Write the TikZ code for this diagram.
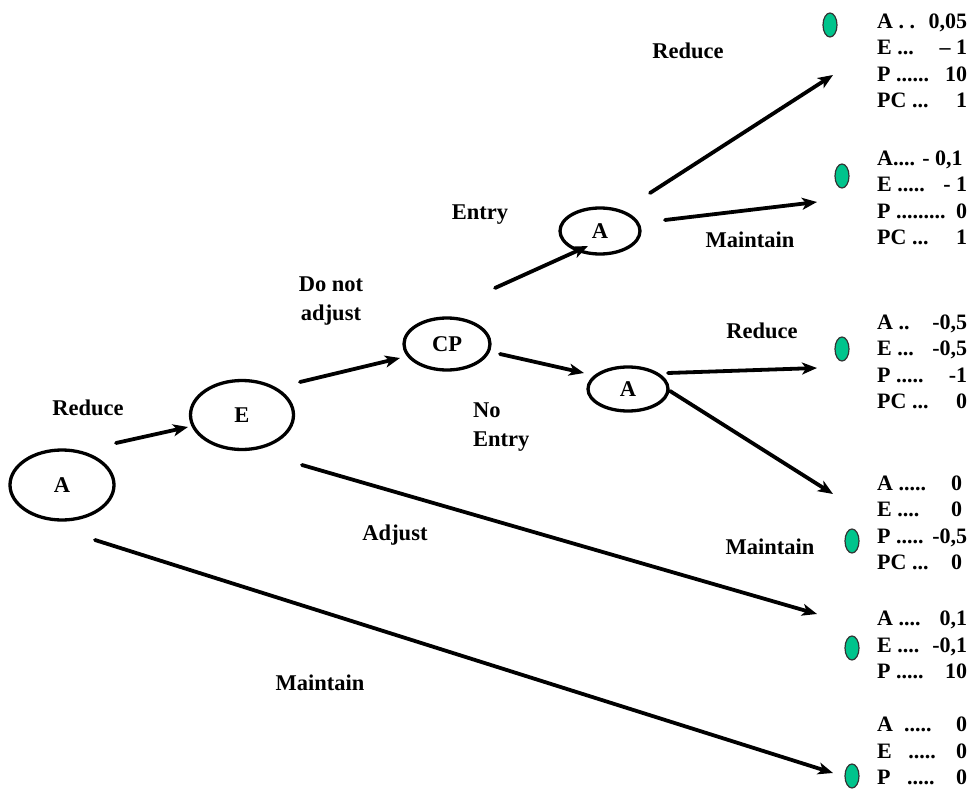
\documentclass[tikz,border=0pt]{standalone}
\usepackage{fontspec}
\setmainfont{Liberation Serif}
\usetikzlibrary{shapes.geometric,arrows.meta}
\newcommand{\pl}[2]{\hbox to 90pt{#1\hfill #2}}
\tikzset{
  dec/.style={ellipse, draw=black, line width=3.3pt, inner sep=0pt, font=\fontsize{22.5}{26}\selectfont\bfseries},
  leaf/.style={ellipse, draw=black!80, line width=1.2pt, fill={rgb,255:red,0;green,196;blue,140}, minimum width=14pt, minimum height=24pt, inner sep=0pt},
  lbl/.style={font=\fontsize{22.5}{29}\selectfont\bfseries, inner sep=0pt, align=center},
  pay/.style={font=\fontsize{22}{26.5}\selectfont\bfseries, inner sep=0pt, anchor=west, align=left},
  arr/.style={line width=3.8pt, -{Stealth[length=15pt,width=12pt,inset=4pt]}, line cap=round}
}
\begin{document}
\begin{tikzpicture}[x=1pt,y=-1pt]
\useasboundingbox (0,0) rectangle (975,789);
% decision nodes
\node[dec, minimum width=104pt, minimum height=70pt] (A0) at (62,485) {A};
\node[dec, minimum width=103pt, minimum height=69pt] (E) at (242,415) {E};
\node[dec, minimum width=86pt, minimum height=52pt] (CP) at (447,344) {CP};
\node[dec, minimum width=80pt, minimum height=46pt] (A1) at (600,231) {A};
\node[dec, minimum width=80pt, minimum height=44pt] (A2) at (628,389) {A};
% leaves
\node[leaf] (L1) at (830,25) {};
\node[leaf] (L2) at (842,176) {};
\node[leaf] (L3) at (842,349) {};
\node[leaf] (L4) at (852,541) {};
\node[leaf] (L5) at (852,648) {};
\node[leaf] (L6) at (852,776) {};
% connector coordinates
\coordinate (s1) at (116,443); \coordinate (e1) at (188,427);
\coordinate (s2) at (300,382); \coordinate (e2) at (400,358);
\coordinate (s3) at (495,288); \coordinate (e3) at (588,246);
\coordinate (s4) at (500,354); \coordinate (e4) at (584,373);
\coordinate (s5) at (650,193); \coordinate (e5) at (833,75);
\coordinate (s6) at (665,220); \coordinate (e6) at (817,202);
\coordinate (s7) at (668,373); \coordinate (e7) at (817,368);
\coordinate (s8) at (670,391); \coordinate (e8) at (833,494);
\coordinate (s9) at (302,465); \coordinate (e9) at (817,614);
\coordinate (s10) at (95,540); \coordinate (e10) at (833,773);
\foreach \i in {1,...,10} {\draw[arr] (s\i) -- (e\i);}
% labels
\node[lbl] (t1) at (88,408) {Reduce};
\node[lbl] (t2) at (331,301) {Do not\\adjust};
\node[lbl] (t3) at (480,215) {Entry};
\node[lbl, anchor=west, align=left] (t4) at (473,427) {No\\Entry};
\node[lbl] (t5) at (395,535) {Adjust};
\node[lbl] (t6) at (320,683) {Maintain};
\node[lbl] (t7) at (688,51) {Reduce};
\node[lbl] (t8) at (750,240) {Maintain};
\node[lbl] (t9) at (762,331) {Reduce};
\node[lbl] (t10) at (770,547) {Maintain};
% payoffs
\node[pay] (p1) at (877,61) {\pl{A . .}{0,05}\\\pl{E ...}{-- 1}\\\pl{P ......}{10}\\\pl{PC ...}{1}};
\node[pay] (p2) at (877,198) {\pl{A.... - 0,1}{}\\\pl{E .....}{- 1}\\\pl{P .........}{0}\\\pl{PC ...}{1}};
\node[pay] (p3) at (877,362) {\pl{A ..}{-0,5}\\\pl{E ...}{-0,5}\\\pl{P .....}{-1}\\\pl{PC ...}{0}};
\node[pay] (p4) at (877,523) {\pl{A .....}{0\hspace{5pt}}\\\pl{E ....}{0\hspace{5pt}}\\\pl{P .....}{-0,5}\\\pl{PC ...}{0\hspace{5pt}}};
\node[pay] (p5) at (877,645) {\pl{A ....}{0,1}\\\pl{E ....}{-0,1}\\\pl{P .....}{10}};
\node[pay] (p6) at (877,751) {\pl{A\ \ .....}{0}\\\pl{E\ \ \ .....}{0}\\\pl{P\ \ \ .....}{0}};
\end{tikzpicture}
\end{document}
